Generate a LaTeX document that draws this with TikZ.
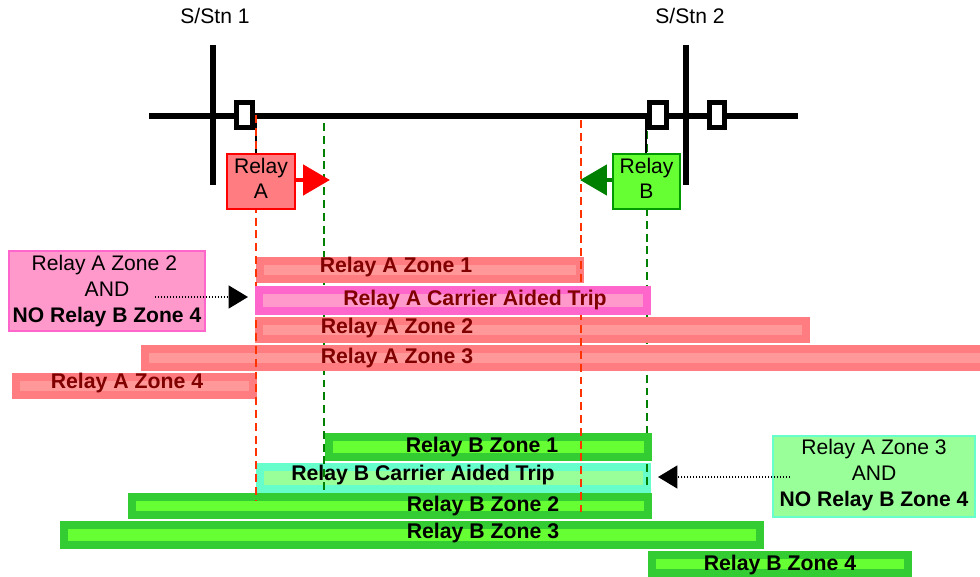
\documentclass[tikz,border=0pt]{standalone}
\usepackage{fontspec}
\setmainfont{Liberation Sans}
\usepackage{xcolor}
\usepackage{tikz}
\usetikzlibrary{arrows.meta}
\definecolor{zonea}{HTML}{FF7C80}
\definecolor{zonealight}{HTML}{FF9999}
\definecolor{cata}{HTML}{FF66CC}
\definecolor{catalight}{HTML}{FF99CC}
\definecolor{zoneb}{HTML}{33CC33}
\definecolor{zoneblight}{HTML}{66FF33}
\definecolor{catb}{HTML}{66FFCC}
\definecolor{catblight}{HTML}{99FF99}
\definecolor{reddash}{HTML}{FF3300}
\definecolor{greendash}{HTML}{008000}
\definecolor{darkredtext}{HTML}{800000}
\tikzset{
  every node/.style={font=\fontsize{12}{14.6}\selectfont, inner sep=0pt},
  busbar/.style={line width=3pt, black},
  breaker/.style={draw=black, fill=white, line width=2.8pt},
  probe/.style={line width=1pt, black},
  reddashed/.style={line width=1.2pt, reddash, dash pattern=on 4.5pt off 2.8pt},
  greendashed/.style={line width=1.2pt, greendash, dash pattern=on 4.5pt off 2.8pt},
  barA/.style={draw=zonea, fill=zonealight, line width=4.54pt},
  barAcat/.style={draw=cata, fill=catalight, line width=4.54pt},
  barB/.style={draw=zoneb, fill=zoneblight, line width=4.54pt},
  barBcat/.style={draw=catb, fill=catblight, line width=4.54pt},
  textA/.style={font=\fontsize{12.1}{14.6}\selectfont\bfseries, text=darkredtext, text height=8.4pt, text depth=0.2pt},
  textB/.style={font=\fontsize{12.1}{14.6}\selectfont\bfseries, text=black, text height=8.4pt, text depth=0.2pt},
  relaybox/.style={draw, line width=1.1pt, minimum width=38.5pt, minimum height=31.5pt, align=center, text depth=3.5pt},
  condbox/.style={draw, line width=1.1pt, align=center},
  dirarrow/.style={line width=2.8pt, -{Triangle[length=15.3pt, width=17pt]}},
  hintarrow/.style={black, line width=0.9pt, dash pattern=on 0.8pt off 0.9pt, -{Triangle[length=11pt, width=13pt]}}
}

\begin{document}
\begin{tikzpicture}[x=0.02cm, y=-0.02cm]
        \useasboundingbox (0, 0) rectangle (980, 577);

        % line and substations
        \node(STN1) at (215, 16) {S/Stn 1};
        \node(STN2) at (690, 16) {S/Stn 2};
        \coordinate (lineL) at (149, 116);
        \coordinate (lineR) at (798, 116);
        \coordinate (bus1top) at (213, 45);
        \coordinate (bus1end) at (213, 185);
        \coordinate (bus2top) at (686, 45);
        \coordinate (bus2end) at (686, 185);
        \draw[busbar] (lineL) -- (lineR);
        \draw[busbar] (bus1top) -- (bus1end);
        \draw[busbar] (bus2top) -- (bus2end);
        \draw[breaker] (236.5, 102.5) rectangle (252.5, 127.5);
        \draw[breaker] (649.5, 102.5) rectangle (666.5, 127.5);
        \draw[breaker] (709.5, 102.5) rectangle (724.5, 127.5);

        % guide line ends
        \coordinate (redAtop) at (256, 115);
        \coordinate (redAend) at (256, 501);
        \coordinate (redBtop) at (581, 120);
        \coordinate (redBend) at (581, 512);
        \coordinate (greenAtop) at (324, 123);
        \coordinate (greenAend) at (324, 493);
        \coordinate (greenBtop) at (647, 131);
        \coordinate (greenBend) at (647, 488);
        \coordinate (probeA) at (256, 116);
        \coordinate (probeAend) at (256, 153);
        \coordinate (probeB) at (646, 116);
        \coordinate (probeBend) at (646, 153);

        % bars under the guide lines
        \draw[barBcat] (260, 467) rectangle (647, 489);
        \draw[greendashed] (greenAtop) -- (greenAend);
        \draw[greendashed] (greenBtop) -- (greenBend);
        \draw[probe] (probeA) -- (probeAend);
        \draw[probe] (probeB) -- (probeBend);

        \draw[barA] (260, 261) rectangle (580, 279);
        \draw[barA] (259, 321) rectangle (806, 339);
        \draw[barA] (145, 349) rectangle (990, 367);
        \draw[barA] (16, 377) rectangle (253, 395);
        \draw[barB] (329, 437) rectangle (648, 457);
        \draw[barB] (132, 497) rectangle (648, 515);
        \draw[barB] (64, 525) rectangle (760, 545);
        \draw[barB] (652, 555) rectangle (908, 573);

        \draw[reddashed] (redAtop) -- (redAend);
        \draw[reddashed] (redBtop) -- (redBend);
        \draw[barAcat] (259, 290) rectangle (647, 311);

        % relays
        \node[relaybox, draw=red, fill=zonea] (RA) at (261, 181.5) {Relay\\A};
        \node[relaybox, draw=green!60!black, fill=zoneblight] (RB) at (646.5, 181.5) {Relay\\B};
        \coordinate (tipA) at (330, 180);
        \coordinate (tipB) at (580, 180);
        \draw[dirarrow, red] (RA.east |- tipA) -- (tipA);
        \draw[dirarrow, greendash] (RB.west |- tipB) -- (tipB);

        % conditions
        \node[condbox, draw=cata, fill=catalight, minimum width=112pt, minimum height=46pt] (CA) at (107, 291)
          {Relay A Zone 2\hspace*{3pt}\\AND\hspace*{3pt}\\\textbf{NO Relay B Zone 4}};
        \node[condbox, draw=catb, fill=catblight, minimum width=114.5pt, minimum height=46pt, text depth=4.2pt] (CB) at (874, 476.5)
          {Relay A Zone 3\\AND\\\textbf{NO Relay B Zone 4}};
        \coordinate (hintAstart) at (155, 297);
        \coordinate (hintAend) at (248, 297);
        \coordinate (hintBstart) at (790, 477);
        \coordinate (hintBend) at (658, 477);
        \draw[hintarrow] (hintAstart) -- (hintAend);
        \draw[hintarrow] (hintBstart) -- (hintBend);

        % bar labels
        \node[textA] (LA1) at (396, 265) {Relay A Zone 1};
        \node[textA] (LAC) at (475, 298) {Relay A Carrier Aided Trip};
        \node[textA] (LA2) at (397, 326) {Relay A Zone 2};
        \node[textA] (LA3) at (397, 356) {Relay A Zone 3};
        \node[textA] (LA4) at (127, 381) {Relay A Zone 4};
        \node[textB] (LB1) at (482, 445) {Relay B Zone 1};
        \node[textB] (LBC) at (423, 473) {Relay B Carrier Aided Trip};
        \node[textB] (LB2) at (483, 504) {Relay B Zone 2};
        \node[textB] (LB3) at (483, 531) {Relay B Zone 3};
        \node[textB] (LB4) at (780, 563) {Relay B Zone 4};
      \end{tikzpicture}
\end{document}
